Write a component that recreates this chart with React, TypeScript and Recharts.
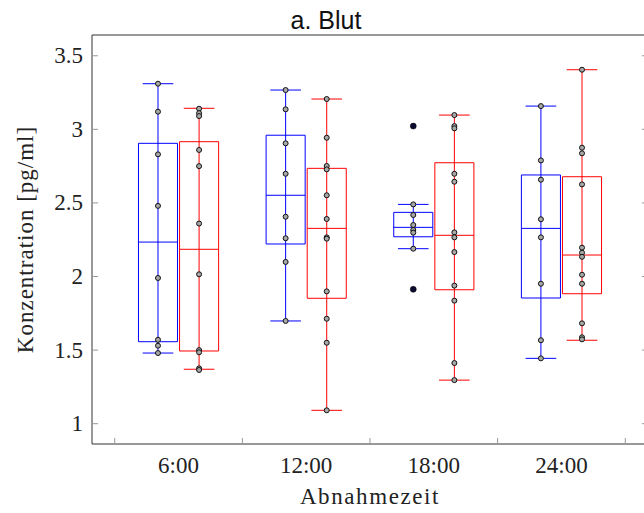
import { ComposedChart, XAxis, YAxis, Scatter, ReferenceArea, ReferenceLine, Label } from "recharts";

const TIMES = ["6:00", "12:00", "18:00", "24:00"];
const X_TICKS = [-0.5, 0, 0.5, 1, 1.5, 2, 2.5, 3, 3.5];
const Y_TICKS = [1, 1.5, 2, 2.5, 3, 3.5];

// box stats per Abnahmezeit: [min, q1, median, q3, max]
const BLUE_STATS = [
  [1.48, 1.557, 2.234, 2.905, 3.31],
  [1.698, 2.221, 2.552, 2.96, 3.267],
  [2.189, 2.27, 2.334, 2.436, 2.49],
  [1.444, 1.854, 2.327, 2.69, 3.158],
];
const RED_STATS = [
  [1.37, 1.494, 2.185, 2.916, 3.143],
  [1.091, 1.852, 2.327, 2.735, 3.206],
  [1.296, 1.91, 2.28, 2.773, 3.097],
  [1.567, 1.883, 2.146, 2.678, 3.405],
];

// single measurements
const BLUE_POINTS = [
  [3.31, 3.12, 2.83, 2.48, 1.99, 1.57, 1.53, 1.48],
  [3.267, 3.136, 2.905, 2.698, 2.406, 2.26, 2.099, 1.698],
  [2.49, 2.418, 2.35, 2.316, 2.298, 2.189],
  [3.158, 2.789, 2.658, 2.389, 2.266, 1.951, 1.567, 1.444],
];
const RED_POINTS = [
  [3.14, 3.11, 3.09, 2.86, 2.75, 2.36, 2.015, 1.5, 1.485, 1.376, 1.365],
  [3.206, 2.943, 2.751, 2.728, 2.552, 2.391, 2.266, 2.257, 1.899, 1.713, 1.55, 1.091],
  [3.097, 3.022, 3.007, 2.698, 2.644, 2.3, 2.266, 2.166, 1.938, 1.836, 1.412, 1.296],
  [3.405, 2.875, 2.837, 2.626, 2.196, 2.162, 2.134, 2.012, 1.951, 1.682, 1.587, 1.573],
];
const BLUE_OUTLIERS = [[], [], [3.022, 1.913], []];

const BLUE = "#0000ff";
const RED = "#ff0000";
const OFFSET = 0.161;
const BOX_HALF = 0.153;
const CAP_HALF = 0.12;
const X_DOMAIN = [-0.678, 3.678];
const Y_DOMAIN = [0.862, 3.641];
const SERIF = "'Liberation Serif', 'Times New Roman', serif";

const toPoints = (lists: number[][], dx: number) =>
  lists.flatMap((vals, i) => vals.map((v) => ({ x: i + dx, y: v })));

function boxes(stats: number[][], dx: number, color: string, key: string) {
  const out: any[] = [];
  stats.forEach(([min, q1, med, q3, max], i) => {
    const c = i + dx;
    const seg = (name: string, x1: number, y1: number, x2: number, y2: number) => (
      <ReferenceLine key={`${key}-${name}-${i}`} segment={[{ x: x1, y: y1 }, { x: x2, y: y2 }]}
        stroke={color} strokeWidth={1} ifOverflow="visible" />
    );
    out.push(
      seg("whisker", c, min, c, max),
      <ReferenceArea key={`${key}-box-${i}`} x1={c - BOX_HALF} x2={c + BOX_HALF} y1={q1} y2={q3}
        fill="#fff" fillOpacity={1} stroke={color} strokeWidth={1} ifOverflow="visible" />,
      seg("med", c - BOX_HALF, med, c + BOX_HALF, med),
      seg("cu", c - CAP_HALF, max, c + CAP_HALF, max),
      seg("cl", c - CAP_HALF, min, c + CAP_HALF, min)
    );
  });
  return out;
}

const BottomTick = ({ x, y, payload }: any) => {
  const v = payload.value;
  if (Number.isInteger(v)) {
    return (
      <text x={x} y={y + 29} textAnchor="middle" fontFamily={SERIF} fontSize={23} fill="#222">
        {TIMES[v]}
      </text>
    );
  }
  return <line x1={x} x2={x} y1={y} y2={y - 6} stroke="#999" />;
};

const TopTick = ({ x, y }: any) => <line x1={x} x2={x} y1={y} y2={y + 6} stroke="#999" />;

const LeftTick = ({ x, y, payload }: any) => (
  <g>
    <line x1={x} x2={x + 6} y1={y} y2={y} stroke="#999" />
    <text x={x - 9} y={y + 7.5} textAnchor="end" fontFamily={SERIF} fontSize={23} fill="#222">
      {payload.value}
    </text>
  </g>
);

const RightTick = ({ x, y }: any) => <line x1={x} x2={x - 6} y1={y} y2={y} stroke="#999" />;

const Dot = ({ cx, cy }: any) => <circle cx={cx} cy={cy} r={2.5} fill="#a8a8a8" stroke="#111" strokeWidth={1} />;
const Outlier = ({ cx, cy }: any) => <circle cx={cx} cy={cy} r={3} fill="#0a0a30" stroke="#000" strokeWidth={0.5} />;

export default function App() {
  return (
    <div style={{ position: "absolute", left: 0, top: 0, width: 644, height: 513, overflow: "hidden", background: "#fff" }}>
      <ComposedChart width={660} height={513} margin={{ top: 34, right: 11, bottom: 0, left: 0 }}>
        <XAxis dataKey="x" type="number" domain={X_DOMAIN} allowDataOverflow ticks={X_TICKS} interval={0}
          tick={<BottomTick />} tickLine={false} tickSize={0} tickMargin={0} height={69}
          axisLine={{ stroke: "#333" }}>
          <Label content={({ viewBox }: any) => (
            <text x={viewBox.x + viewBox.width / 2} y={viewBox.y + 60} textAnchor="middle"
              fontFamily={SERIF} fontSize={23} letterSpacing={1.6} fill="#222">Abnahmezeit</text>
          )} />
        </XAxis>
        <XAxis xAxisId="top" orientation="top" type="number" domain={X_DOMAIN} allowDataOverflow ticks={X_TICKS}
          interval={0} tick={<TopTick />} tickLine={false} tickSize={0} tickMargin={0} height={1}
          axisLine={{ stroke: "#333" }}>
          <Label content={() => (
            <text x={326} y={29} textAnchor="middle" fontFamily="'Liberation Sans', Arial, sans-serif"
              fontSize={25} fill="#111">a. Blut</text>
          )} />
        </XAxis>
        <YAxis dataKey="y" type="number" domain={Y_DOMAIN} allowDataOverflow ticks={Y_TICKS} interval={0}
          tick={<LeftTick />} tickLine={false} tickSize={0} tickMargin={0} width={92}
          axisLine={{ stroke: "#333" }}>
          <Label content={({ viewBox }: any) => {
            const cx = viewBox.x + 25;
            const cy = viewBox.y + viewBox.height / 2;
            return (
              <text x={cx} y={cy} transform={`rotate(-90 ${cx} ${cy})`} textAnchor="middle" dominantBaseline="central"
                fontFamily={SERIF} fontSize={23} letterSpacing={1} fill="#222">Konzentration [pg/ml]</text>
            );
          }} />
        </YAxis>
        <YAxis yAxisId="right" orientation="right" type="number" domain={Y_DOMAIN} allowDataOverflow ticks={Y_TICKS}
          interval={0} tick={<RightTick />} tickLine={false} tickSize={0} tickMargin={0} width={1}
          axisLine={{ stroke: "#333" }} />
        {boxes(BLUE_STATS, -OFFSET, BLUE, "b")}
        {boxes(RED_STATS, OFFSET, RED, "r")}
        <Scatter data={toPoints(BLUE_POINTS, -OFFSET)} shape={<Dot />} isAnimationActive={false} />
        <Scatter data={toPoints(RED_POINTS, OFFSET)} shape={<Dot />} isAnimationActive={false} />
        <Scatter data={toPoints(BLUE_OUTLIERS, -OFFSET)} shape={<Outlier />} isAnimationActive={false} />
      </ComposedChart>
    </div>
  );
}
